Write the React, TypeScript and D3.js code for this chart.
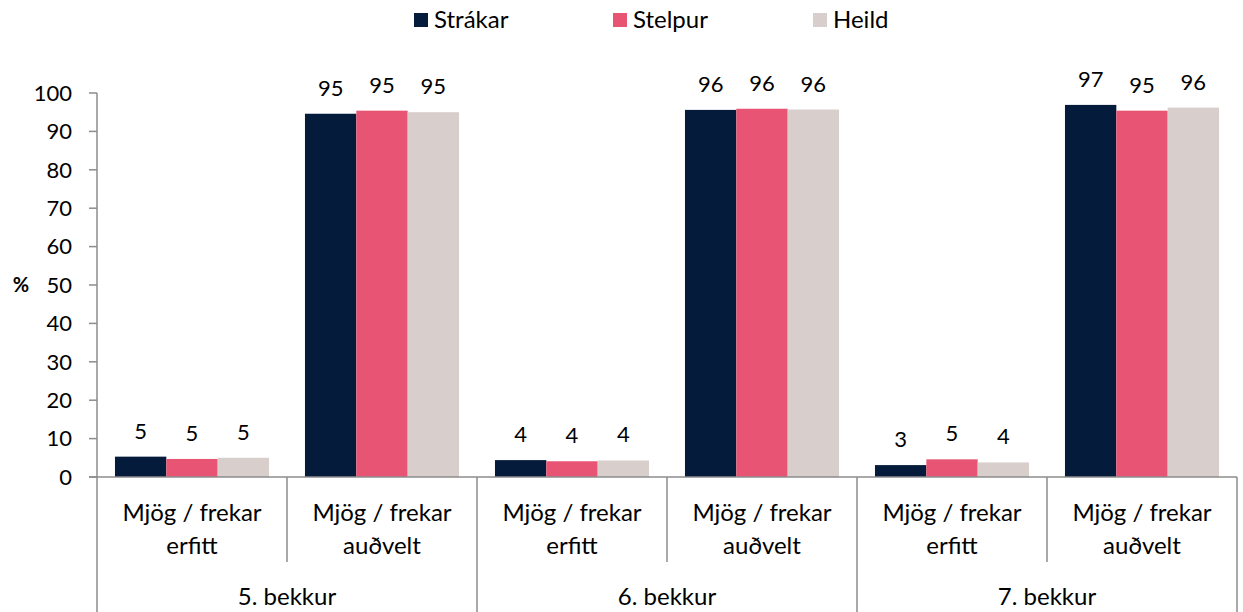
import * as d3 from "d3";

const grades = ["5. bekkur", "6. bekkur", "7. bekkur"];
const answers = ["Mjög / frekar erfitt", "Mjög / frekar auðvelt"];
const seriesNames = ["Strákar", "Stelpur", "Heild"];
const colors = ["#041b3c", "#e85473", "#d8cfcc"];

// values per series, in order 5.erfitt, 5.auðvelt, 6.erfitt, 6.auðvelt, 7.erfitt, 7.auðvelt
const strakar = [5.3, 94.6, 4.4, 95.6, 3.1, 96.9];
const stelpur = [4.7, 95.4, 4.1, 95.9, 4.6, 95.4];
const heild = [5.0, 95.0, 4.3, 95.7, 3.8, 96.2];
const yTicks = [0, 10, 20, 30, 40, 50, 60, 70, 80, 90, 100];

const W = 1243;
const H = 612;
const left = 97;
const right = 1237;
const top = 93;
const bottom = 477;
const FONT = "Lato, 'Open Sans', sans-serif";

export default function App() {
  const series = [strakar, stelpur, heild];
  const cats = grades.flatMap((g) => answers.map((a) => `${g}|${a}`));

  const x = d3.scaleBand<string>().domain(cats).range([left, right]).paddingInner(0).paddingOuter(0);
  const inner = d3
    .scaleBand<string>()
    .domain(seriesNames)
    .range([0, x.bandwidth()])
    .paddingInner(0)
    .paddingOuter(0.35);
  const y = d3.scaleLinear().domain([0, 100]).range([bottom, top]);
  const axisColor = "#8c8c8c";

  return (
    <svg width={W} height={H} style={{ position: "absolute", left: 0, top: 0 }}>
      <rect width={W} height={H} fill="#fff" />
      {/* legend */}
      {seriesNames.map((s, i) => {
        const lx = [414, 613, 813][i];
        return (
          <g key={s}>
            <rect x={lx} y={13} width={14} height={14} fill={colors[i]} />
            <text x={lx + 20} y={28} fontFamily={FONT} fontSize={24} fill="#000">
              {s}
            </text>
          </g>
        );
      })}

      {/* y axis */}
      <line x1={left} x2={left} y1={top} y2={bottom} stroke={axisColor} strokeWidth={1.5} />
      {yTicks.map((t) => (
        <g key={t}>
          <line x1={left - 8} x2={left} y1={y(t)} y2={y(t)} stroke={axisColor} strokeWidth={1.5} />
          <text
            x={left - 25}
            y={y(t)}
            dy="0.35em"
            textAnchor="end"
            fontFamily={FONT}
            fontSize={22}
            fill="#000"
          >
            {t}
          </text>
        </g>
      ))}
      <text x={21} y={285} dy="0.35em" textAnchor="middle" fontFamily={FONT} fontSize={20} fontWeight="bold">
        %
      </text>

      {/* bars */}
      {cats.map((c, ci) =>
        series.map((vals, si) => {
          const v = vals[ci];
          const bx = (x(c) ?? 0) + (inner(seriesNames[si]) ?? 0);
          return (
            <g key={`${c}-${si}`}>
              <rect x={bx} y={y(v)} width={inner.bandwidth()} height={bottom - y(v)} fill={colors[si]} />
              <text
                x={bx + inner.bandwidth() / 2}
                y={y(v) - 18}
                textAnchor="middle"
                fontFamily={FONT}
                fontSize={22}
                fill="#000"
              >
                {Math.round(v)}
              </text>
            </g>
          );
        })
      )}

      {/* x axis */}
      <line x1={left - 8} x2={right} y1={bottom} y2={bottom} stroke={axisColor} strokeWidth={1.5} />
      {cats.map((c, ci) => {
        const x0 = x(c) ?? 0;
        const isGroupEdge = ci % 2 === 0;
        return (
          <line
            key={`d-${c}`}
            x1={x0}
            x2={x0}
            y1={bottom}
            y2={isGroupEdge ? H : 562}
            stroke={axisColor}
            strokeWidth={1.5}
          />
        );
      })}
      <line x1={right} x2={right} y1={bottom} y2={H} stroke={axisColor} strokeWidth={1.5} />
      {cats.map((c) => {
        const cx = (x(c) ?? 0) + x.bandwidth() / 2;
        const label = c.split("|")[1];
        const parts = [label.split(" ").slice(0, 3).join(" "), label.split(" ").slice(3).join(" ")];
        return (
          <text key={`l-${c}`} textAnchor="middle" fontFamily={FONT} fontSize={24} fill="#000">
            <tspan x={cx} y={521}>
              {parts[0]}
            </tspan>
            <tspan x={cx} y={554}>
              {parts[1]}
            </tspan>
          </text>
        );
      })}
      {grades.map((g) => {
        const x0 = x(`${g}|${answers[0]}`) ?? 0;
        return (
          <text
            key={g}
            x={x0 + x.bandwidth()}
            y={605}
            textAnchor="middle"
            fontFamily={FONT}
            fontSize={24}
            fill="#000"
          >
            {g}
          </text>
        );
      })}
    </svg>
  );
}
